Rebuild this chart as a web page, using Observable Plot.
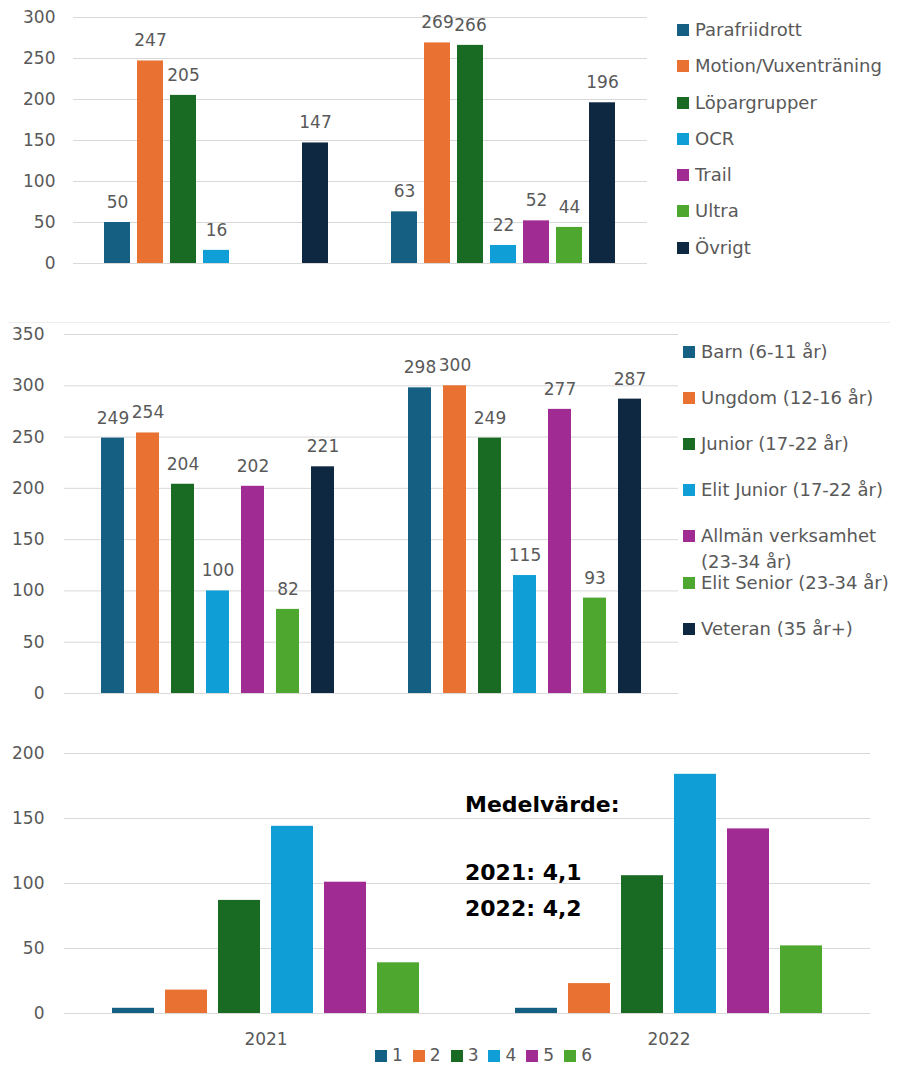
<!DOCTYPE html>
<html><head><meta charset="utf-8">
<script src="https://cdn.jsdelivr.net/npm/d3@7"></script>
<script src="https://cdn.jsdelivr.net/npm/@observablehq/plot@0.6"></script>
<style>
body{margin:0;background:#fff;font-family:"DejaVu Sans",sans-serif;}
#root{position:relative;width:900px;height:1065px;overflow:hidden;background:#fff;}
.panel{position:absolute;left:0;}
.legend{position:absolute;color:#595959;font-size:18px;line-height:26px;}
.item{display:flex;align-items:flex-start;white-space:nowrap;}
.sw{width:12px;height:12px;margin-top:7px;margin-right:6px;flex:none;}
.hlegend{position:absolute;display:flex;color:#595959;font-size:17px;line-height:17px;}
.hitem{display:flex;align-items:center;margin-right:10px;}
.hsw{width:12px;height:12px;margin-right:5px;}
.sep{position:absolute;left:8px;width:882px;height:1px;background:#ededed;}
</style></head><body><div id="root"></div>
<script>
const years = ["2021", "2022"];
const palette = ["#156082", "#E97132", "#196B24", "#0F9ED5", "#A02B93", "#4EA72E", "#0E2841"];

const activityCats = ["Parafriidrott", "Motion/Vuxenträning", "Löpargrupper", "OCR", "Trail", "Ultra", "Övrigt"];
const activity2021 = [50, 247, 205, 16, null, null, 147];
const activity2022 = [63, 269, 266, 22, 52, 44, 196];
const activityTicks = [0, 50, 100, 150, 200, 250, 300];

const ageCats = ["Barn (6-11 år)", "Ungdom (12-16 år)", "Junior (17-22 år)", "Elit Junior (17-22 år)", "Allmän verksamhet (23-34 år)", "Elit Senior (23-34 år)", "Veteran (35 år+)"];
const ageLegend = ["Barn (6-11 år)", "Ungdom (12-16 år)", "Junior (17-22 år)", "Elit Junior (17-22 år)", "Allmän verksamhet<br>(23-34 år)", "Elit Senior (23-34 år)", "Veteran (35 år+)"];
const age2021 = [249, 254, 204, 100, 202, 82, 221];
const age2022 = [298, 300, 249, 115, 277, 93, 287];
const ageTicks = [0, 50, 100, 150, 200, 250, 300, 350];

const ratingCats = ["1", "2", "3", "4", "5", "6"];
const rating2021 = [4, 18, 87, 144, 101, 39];
const rating2022 = [4, 23, 106, 184, 142, 52];
const ratingTicks = [0, 50, 100, 150, 200];
const noteTitle = "Medelvärde:";
const noteLines = "2021: 4,1\n2022: 4,2";

const gray = "#595959";
const grid = "#d9d9d9";

function rows(cats, a, b) {
  const out = [];
  cats.forEach((c, i) => {
    if (a[i] != null) out.push({year: years[0], cat: c, value: a[i]});
  });
  cats.forEach((c, i) => {
    if (b[i] != null) out.push({year: years[1], cat: c, value: b[i]});
  });
  return out;
}

const root = document.getElementById("root");
function place(el, top) {
  el.classList.add("panel");
  el.style.top = top + "px";
  root.appendChild(el);
}
function legend(cats, labels, left, top, rowH) {
  const div = document.createElement("div");
  div.className = "legend";
  div.style.left = left + "px";
  div.style.top = top + "px";
  cats.forEach((c, i) => {
    const it = document.createElement("div");
    it.className = "item";
    it.style.height = rowH + "px";
    it.innerHTML = `<div class="sw" style="background:${palette[i]}"></div><div>${labels[i]}</div>`;
    div.appendChild(it);
  });
  root.appendChild(div);
}

const baseStyle = {fontFamily: "DejaVu Sans", fontSize: "17px", color: gray, background: "transparent", overflow: "visible"};

// Chart 1
const d1 = rows(activityCats, activity2021, activity2022);
const c1 = Plot.plot({
  width: 900, height: 322,
  marginLeft: 72, marginRight: 253, marginTop: 17, marginBottom: 59,
  style: baseStyle,
  fx: {domain: years, padding: 0, axis: null},
  x: {domain: activityCats, paddingInner: 0.2, paddingOuter: 0.878, axis: null},
  y: {domain: [0, 300], axis: null},
  color: {domain: activityCats, range: palette},
  marks: [
    Plot.gridY(activityTicks, {stroke: grid, strokeOpacity: 1}),
    Plot.axisY(activityTicks, {tickSize: 0, tickPadding: 18, fill: gray, fontSize: 17, label: null}),
    Plot.barY(d1, {fx: "year", x: "cat", y: "value", fill: "cat"}),
    Plot.text(d1, {fx: "year", x: "cat", y: "value", text: d => String(d.value), dy: -20, lineAnchor: "middle", fill: gray, fontSize: 17})
  ]
});
place(c1, 0);
legend(activityCats, activityCats, 677, 17, 36.3);

const sep = document.createElement("div");
sep.className = "sep";
sep.style.top = "322px";
root.appendChild(sep);

// Chart 2
const d2 = rows(ageCats, age2021, age2022);
const c2 = Plot.plot({
  width: 900, height: 387,
  marginLeft: 63, marginRight: 222, marginTop: 11, marginBottom: 17,
  style: baseStyle,
  fx: {domain: years, padding: 0, axis: null},
  x: {domain: ageCats, paddingInner: 0.33, paddingOuter: 1.03, axis: null},
  y: {domain: [0, 350], axis: null},
  color: {domain: ageCats, range: palette},
  marks: [
    Plot.gridY(ageTicks, {stroke: grid, strokeOpacity: 1}),
    Plot.axisY(ageTicks, {tickSize: 0, tickPadding: 20, fill: gray, fontSize: 17, label: null}),
    Plot.barY(d2, {fx: "year", x: "cat", y: "value", fill: "cat"}),
    Plot.text(d2, {fx: "year", x: "cat", y: "value", text: d => String(d.value), dy: -20, lineAnchor: "middle", fill: gray, fontSize: 17})
  ]
});
place(c2, 323);
legend(ageCats, ageLegend, 683, 338.7, 46.2);

// Chart 3
const d3rows = rows(ratingCats, rating2021, rating2022);
const c3 = Plot.plot({
  width: 900, height: 340,
  marginLeft: 63, marginRight: 30, marginTop: 43, marginBottom: 37,
  style: baseStyle,
  fx: {domain: years, padding: 0, axis: "bottom", tickSize: 0, tickPadding: 19, label: null},
  x: {domain: ratingCats, paddingInner: 0.21, paddingOuter: 0.855, axis: null},
  y: {domain: [0, 200], axis: null},
  color: {domain: ratingCats, range: palette},
  marks: [
    Plot.gridY(ratingTicks, {stroke: grid, strokeOpacity: 1}),
    Plot.axisY(ratingTicks, {tickSize: 0, tickPadding: 20, fill: gray, fontSize: 17, label: null}),
    Plot.barY(d3rows, {fx: "year", x: "cat", y: "value", fill: "cat"}),
    Plot.text([noteTitle], {fx: () => years[1], text: d => d, frameAnchor: "top-left", textAnchor: "start", lineAnchor: "top", dx: -2.5, dy: 43, fill: "black", fontSize: 22, fontWeight: "bold"}),
    Plot.text([noteLines], {fx: () => years[1], text: d => d, frameAnchor: "top-left", textAnchor: "start", lineAnchor: "top", dx: -2.5, dy: 102, lineHeight: 1.6, fill: "black", fontSize: 22, fontWeight: "bold"})
  ]
});
place(c3, 710);

const hl = document.createElement("div");
hl.className = "hlegend";
hl.style.left = "375px";
hl.style.top = "1047px";
ratingCats.forEach((c, i) => {
  const it = document.createElement("div");
  it.className = "hitem";
  it.innerHTML = `<div class="hsw" style="background:${palette[i]}"></div><div>${c}</div>`;
  hl.appendChild(it);
});
root.appendChild(hl);
</script></body></html>
